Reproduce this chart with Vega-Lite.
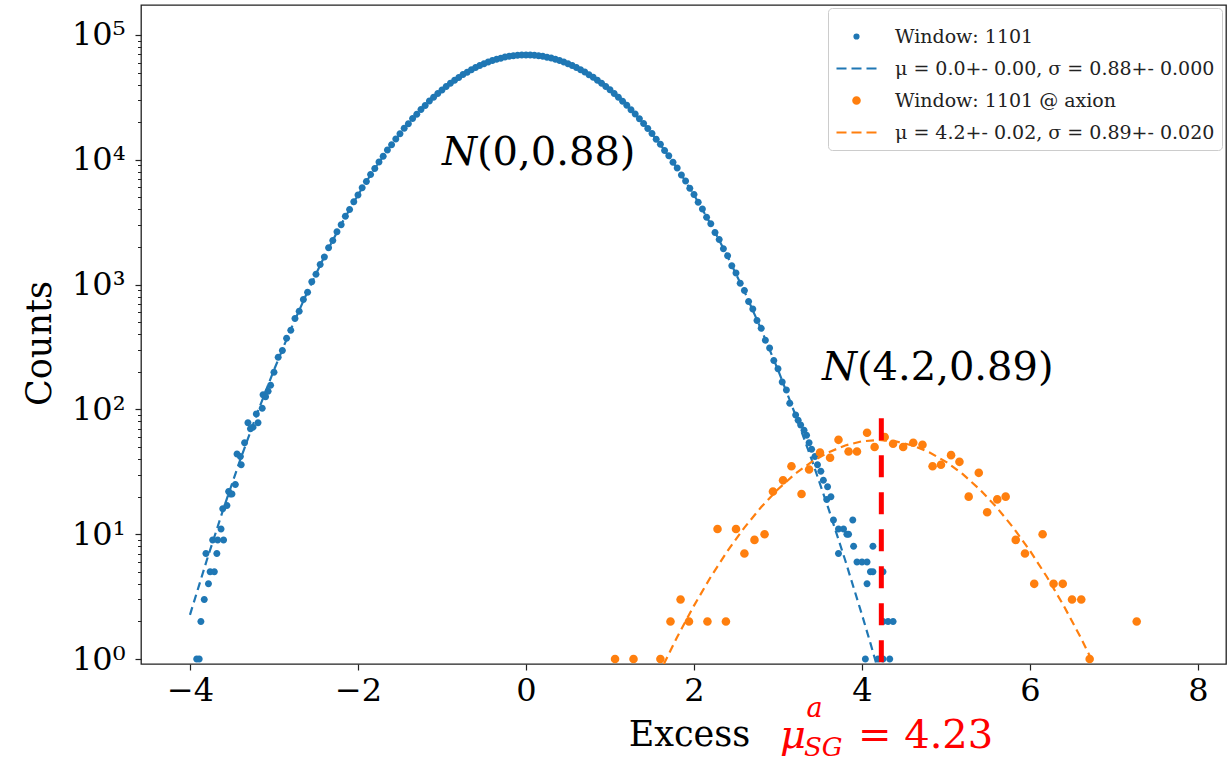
{
  "$schema": "https://vega.github.io/schema/vega-lite/v6.json",
  "width": 1085,
  "height": 659,
  "autosize": {"type": "none"},
  "padding": {"left": 141, "top": 5, "right": 5, "bottom": 100},
  "background": "white",
  "config": {"view": {"stroke": "#222222", "strokeWidth": 1.3}, "font": "DejaVu Serif"},
  "datasets": {
    "blue": [
      {"x":-3.92,"y":1,"series":"Window: 1101"},{"x":-3.89,"y":1,"series":"Window: 1101"},{"x":-3.87,"y":2,"series":"Window: 1101"},{"x":-3.83,"y":3,"series":"Window: 1101"},{"x":-3.81,"y":7,"series":"Window: 1101"},{"x":-3.78,"y":4,"series":"Window: 1101"},{"x":-3.76,"y":5,"series":"Window: 1101"},{"x":-3.73,"y":9,"series":"Window: 1101"},{"x":-3.71,"y":5,"series":"Window: 1101"},{"x":-3.68,"y":7,"series":"Window: 1101"},{"x":-3.67,"y":9,"series":"Window: 1101"},{"x":-3.63,"y":11,"series":"Window: 1101"},{"x":-3.61,"y":16,"series":"Window: 1101"},{"x":-3.6,"y":9,"series":"Window: 1101"},{"x":-3.56,"y":17,"series":"Window: 1101"},{"x":-3.54,"y":22,"series":"Window: 1101"},{"x":-3.52,"y":21,"series":"Window: 1101"},{"x":-3.5,"y":21,"series":"Window: 1101"},{"x":-3.46,"y":25,"series":"Window: 1101"},{"x":-3.44,"y":44,"series":"Window: 1101"},{"x":-3.4,"y":42,"series":"Window: 1101"},{"x":-3.39,"y":36,"series":"Window: 1101"},{"x":-3.35,"y":54,"series":"Window: 1101"},{"x":-3.31,"y":78,"series":"Window: 1101"},{"x":-3.28,"y":70,"series":"Window: 1101"},{"x":-3.25,"y":72,"series":"Window: 1101"},{"x":-3.21,"y":92,"series":"Window: 1101"},{"x":-3.19,"y":78,"series":"Window: 1101"},{"x":-3.14,"y":102,"series":"Window: 1101"},{"x":-3.13,"y":131,"series":"Window: 1101"},{"x":-3.1,"y":126,"series":"Window: 1101"},{"x":-3.07,"y":140,"series":"Window: 1101"},{"x":-3.04,"y":156,"series":"Window: 1101"},
      {"x":-3.0,"y":198,"series":"Window: 1101"},{"x":-2.95,"y":262,"series":"Window: 1101"},{"x":-2.9,"y":296,"series":"Window: 1101"},{"x":-2.85,"y":372,"series":"Window: 1101"},{"x":-2.8,"y":430,"series":"Window: 1101"},{"x":-2.75,"y":536,"series":"Window: 1101"},{"x":-2.7,"y":612,"series":"Window: 1101"},{"x":-2.65,"y":758,"series":"Window: 1101"},{"x":-2.6,"y":868,"series":"Window: 1101"},{"x":-2.55,"y":1052,"series":"Window: 1101"},{"x":-2.5,"y":1210,"series":"Window: 1101"},{"x":-2.45,"y":1450,"series":"Window: 1101"},{"x":-2.4,"y":1665,"series":"Window: 1101"},{"x":-2.35,"y":1975,"series":"Window: 1101"},{"x":-2.3,"y":2255,"series":"Window: 1101"},{"x":-2.25,"y":2650,"series":"Window: 1101"},{"x":-2.2,"y":3020,"series":"Window: 1101"},{"x":-2.15,"y":3520,"series":"Window: 1101"},{"x":-2.1,"y":3990,"series":"Window: 1101"},{"x":-2.05,"y":4610,"series":"Window: 1101"},{"x":-2.0,"y":5210,"series":"Window: 1101"},{"x":-1.95,"y":5960,"series":"Window: 1101"},{"x":-1.9,"y":6700,"series":"Window: 1101"},{"x":-1.85,"y":7620,"series":"Window: 1101"},{"x":-1.8,"y":8510,"series":"Window: 1101"},{"x":-1.75,"y":9610,"series":"Window: 1101"},{"x":-1.7,"y":10680,"series":"Window: 1101"},{"x":-1.65,"y":11960,"series":"Window: 1101"},{"x":-1.6,"y":13220,"series":"Window: 1101"},{"x":-1.55,"y":14700,"series":"Window: 1101"},{"x":-1.5,"y":16160,"series":"Window: 1101"},{"x":-1.45,"y":17850,"series":"Window: 1101"},{"x":-1.4,"y":19480,"series":"Window: 1101"},{"x":-1.35,"y":21370,"series":"Window: 1101"},{"x":-1.3,"y":23200,"series":"Window: 1101"},{"x":-1.25,"y":25270,"series":"Window: 1101"},{"x":-1.2,"y":27260,"series":"Window: 1101"},{"x":-1.15,"y":29510,"series":"Window: 1101"},{"x":-1.1,"y":31620,"series":"Window: 1101"},{"x":-1.05,"y":33990,"series":"Window: 1101"},{"x":-1.0,"y":36220,"series":"Window: 1101"},{"x":-0.95,"y":38680,"series":"Window: 1101"},{"x":-0.9,"y":40960,"series":"Window: 1101"},{"x":-0.85,"y":43440,"series":"Window: 1101"},{"x":-0.8,"y":45700,"series":"Window: 1101"},{"x":-0.75,"y":48160,"series":"Window: 1101"},{"x":-0.7,"y":50360,"series":"Window: 1101"},{"x":-0.65,"y":52700,"series":"Window: 1101"},{"x":-0.6,"y":54780,"series":"Window: 1101"},{"x":-0.55,"y":56950,"series":"Window: 1101"},{"x":-0.5,"y":58810,"series":"Window: 1101"},{"x":-0.45,"y":60740,"series":"Window: 1101"},{"x":-0.4,"y":62330,"series":"Window: 1101"},{"x":-0.35,"y":63970,"series":"Window: 1101"},{"x":-0.3,"y":65220,"series":"Window: 1101"},{"x":-0.25,"y":66490,"series":"Window: 1101"},{"x":-0.2,"y":67380,"series":"Window: 1101"},{"x":-0.15,"y":68230,"series":"Window: 1101"},{"x":-0.1,"y":68690,"series":"Window: 1101"},{"x":-0.05,"y":69110,"series":"Window: 1101"},{"x":0.0,"y":69150,"series":"Window: 1101"},
      {"x":0.05,"y":69040,"series":"Window: 1101"},{"x":0.1,"y":68770,"series":"Window: 1101"},{"x":0.15,"y":68140,"series":"Window: 1101"},{"x":0.2,"y":67460,"series":"Window: 1101"},{"x":0.25,"y":66400,"series":"Window: 1101"},{"x":0.3,"y":65310,"series":"Window: 1101"},{"x":0.35,"y":63880,"series":"Window: 1101"},{"x":0.4,"y":62420,"series":"Window: 1101"},{"x":0.45,"y":60650,"series":"Window: 1101"},{"x":0.5,"y":58900,"series":"Window: 1101"},{"x":0.55,"y":56860,"series":"Window: 1101"},{"x":0.6,"y":54870,"series":"Window: 1101"},{"x":0.65,"y":52610,"series":"Window: 1101"},{"x":0.7,"y":50450,"series":"Window: 1101"},{"x":0.75,"y":48070,"series":"Window: 1101"},{"x":0.8,"y":45800,"series":"Window: 1101"},{"x":0.85,"y":43350,"series":"Window: 1101"},{"x":0.9,"y":41050,"series":"Window: 1101"},{"x":0.95,"y":38590,"series":"Window: 1101"},{"x":1.0,"y":36310,"series":"Window: 1101"},{"x":1.05,"y":33910,"series":"Window: 1101"},{"x":1.1,"y":31710,"series":"Window: 1101"},{"x":1.15,"y":29420,"series":"Window: 1101"},{"x":1.2,"y":27340,"series":"Window: 1101"},{"x":1.25,"y":25190,"series":"Window: 1101"},{"x":1.3,"y":23280,"series":"Window: 1101"},{"x":1.35,"y":21290,"series":"Window: 1101"},{"x":1.4,"y":19560,"series":"Window: 1101"},{"x":1.45,"y":17770,"series":"Window: 1101"},{"x":1.5,"y":16230,"series":"Window: 1101"},{"x":1.55,"y":14630,"series":"Window: 1101"},{"x":1.6,"y":13290,"series":"Window: 1101"},{"x":1.65,"y":11890,"series":"Window: 1101"},{"x":1.7,"y":10750,"series":"Window: 1101"},{"x":1.75,"y":9540,"series":"Window: 1101"},{"x":1.8,"y":8580,"series":"Window: 1101"},{"x":1.85,"y":7560,"series":"Window: 1101"},{"x":1.9,"y":6760,"series":"Window: 1101"},{"x":1.95,"y":5910,"series":"Window: 1101"},{"x":2.0,"y":5260,"series":"Window: 1101"},{"x":2.05,"y":4560,"series":"Window: 1101"},{"x":2.1,"y":4040,"series":"Window: 1101"},{"x":2.15,"y":3470,"series":"Window: 1101"},{"x":2.2,"y":3070,"series":"Window: 1101"},{"x":2.25,"y":2610,"series":"Window: 1101"},{"x":2.3,"y":2300,"series":"Window: 1101"},{"x":2.35,"y":1935,"series":"Window: 1101"},{"x":2.4,"y":1700,"series":"Window: 1101"},{"x":2.45,"y":1418,"series":"Window: 1101"},{"x":2.5,"y":1240,"series":"Window: 1101"},{"x":2.55,"y":1025,"series":"Window: 1101"},{"x":2.6,"y":895,"series":"Window: 1101"},{"x":2.65,"y":732,"series":"Window: 1101"},{"x":2.7,"y":636,"series":"Window: 1101"},{"x":2.75,"y":515,"series":"Window: 1101"},{"x":2.8,"y":446,"series":"Window: 1101"},{"x":2.85,"y":358,"series":"Window: 1101"},{"x":2.9,"y":310,"series":"Window: 1101"},{"x":2.95,"y":246,"series":"Window: 1101"},{"x":3.0,"y":212,"series":"Window: 1101"},{"x":3.05,"y":166,"series":"Window: 1101"},{"x":3.1,"y":143,"series":"Window: 1101"},
      {"x":3.14,"y":112,"series":"Window: 1101"},{"x":3.21,"y":90,"series":"Window: 1101"},{"x":3.24,"y":82,"series":"Window: 1101"},{"x":3.27,"y":75,"series":"Window: 1101"},{"x":3.31,"y":68,"series":"Window: 1101"},{"x":3.34,"y":62,"series":"Window: 1101"},{"x":3.37,"y":54,"series":"Window: 1101"},{"x":3.4,"y":48,"series":"Window: 1101"},{"x":3.44,"y":42,"series":"Window: 1101"},{"x":3.47,"y":36,"series":"Window: 1101"},{"x":3.51,"y":32,"series":"Window: 1101"},{"x":3.54,"y":27,"series":"Window: 1101"},{"x":3.58,"y":19,"series":"Window: 1101"},{"x":3.59,"y":24,"series":"Window: 1101"},{"x":3.63,"y":20,"series":"Window: 1101"},{"x":3.66,"y":13,"series":"Window: 1101"},{"x":3.72,"y":11,"series":"Window: 1101"},{"x":3.72,"y":7,"series":"Window: 1101"},{"x":3.78,"y":11,"series":"Window: 1101"},{"x":3.82,"y":10,"series":"Window: 1101"},{"x":3.84,"y":10,"series":"Window: 1101"},{"x":3.89,"y":13,"series":"Window: 1101"},{"x":3.9,"y":8,"series":"Window: 1101"},{"x":3.94,"y":6,"series":"Window: 1101"},{"x":4.0,"y":6,"series":"Window: 1101"},{"x":4.04,"y":1,"series":"Window: 1101"},{"x":4.06,"y":6,"series":"Window: 1101"},{"x":4.06,"y":4,"series":"Window: 1101"},{"x":4.1,"y":5,"series":"Window: 1101"},{"x":4.13,"y":5,"series":"Window: 1101"},{"x":4.13,"y":8,"series":"Window: 1101"},{"x":4.19,"y":1,"series":"Window: 1101"},{"x":4.25,"y":5,"series":"Window: 1101"},{"x":4.25,"y":2,"series":"Window: 1101"},{"x":4.25,"y":1,"series":"Window: 1101"},{"x":4.31,"y":2,"series":"Window: 1101"},{"x":4.33,"y":1,"series":"Window: 1101"},{"x":4.37,"y":2,"series":"Window: 1101"}
    ],
    "orange": [
      {"x":1.06,"y":1,"series":"Window: 1101 @ axion"},{"x":1.28,"y":1,"series":"Window: 1101 @ axion"},{"x":1.6,"y":1,"series":"Window: 1101 @ axion"},{"x":1.72,"y":2,"series":"Window: 1101 @ axion"},{"x":1.84,"y":3,"series":"Window: 1101 @ axion"},{"x":1.94,"y":2,"series":"Window: 1101 @ axion"},{"x":2.16,"y":2,"series":"Window: 1101 @ axion"},{"x":2.38,"y":2,"series":"Window: 1101 @ axion"},{"x":2.28,"y":11,"series":"Window: 1101 @ axion"},{"x":2.5,"y":11,"series":"Window: 1101 @ axion"},{"x":2.6,"y":7,"series":"Window: 1101 @ axion"},{"x":2.72,"y":9,"series":"Window: 1101 @ axion"},{"x":2.84,"y":10,"series":"Window: 1101 @ axion"},{"x":2.94,"y":22,"series":"Window: 1101 @ axion"},{"x":3.06,"y":27,"series":"Window: 1101 @ axion"},{"x":3.16,"y":35,"series":"Window: 1101 @ axion"},{"x":3.28,"y":21,"series":"Window: 1101 @ axion"},{"x":3.37,"y":33,"series":"Window: 1101 @ axion"},{"x":3.5,"y":45,"series":"Window: 1101 @ axion"},{"x":3.62,"y":41,"series":"Window: 1101 @ axion"},{"x":3.72,"y":57,"series":"Window: 1101 @ axion"},{"x":3.84,"y":46,"series":"Window: 1101 @ axion"},{"x":3.94,"y":46,"series":"Window: 1101 @ axion"},{"x":4.06,"y":65,"series":"Window: 1101 @ axion"},{"x":4.15,"y":50,"series":"Window: 1101 @ axion"},{"x":4.27,"y":60,"series":"Window: 1101 @ axion"},{"x":4.37,"y":53,"series":"Window: 1101 @ axion"},{"x":4.49,"y":50,"series":"Window: 1101 @ axion"},{"x":4.61,"y":54,"series":"Window: 1101 @ axion"},{"x":4.72,"y":52,"series":"Window: 1101 @ axion"},{"x":4.84,"y":35,"series":"Window: 1101 @ axion"},{"x":4.94,"y":36,"series":"Window: 1101 @ axion"},{"x":5.06,"y":43,"series":"Window: 1101 @ axion"},{"x":5.16,"y":38,"series":"Window: 1101 @ axion"},{"x":5.27,"y":20,"series":"Window: 1101 @ axion"},{"x":5.39,"y":31,"series":"Window: 1101 @ axion"},{"x":5.49,"y":15,"series":"Window: 1101 @ axion"},{"x":5.61,"y":19,"series":"Window: 1101 @ axion"},{"x":5.71,"y":20,"series":"Window: 1101 @ axion"},{"x":5.83,"y":9,"series":"Window: 1101 @ axion"},{"x":5.94,"y":7,"series":"Window: 1101 @ axion"},{"x":6.05,"y":4,"series":"Window: 1101 @ axion"},{"x":6.15,"y":10,"series":"Window: 1101 @ axion"},{"x":6.28,"y":4,"series":"Window: 1101 @ axion"},{"x":6.39,"y":4,"series":"Window: 1101 @ axion"},{"x":6.5,"y":3,"series":"Window: 1101 @ axion"},{"x":6.61,"y":3,"series":"Window: 1101 @ axion"},{"x":6.71,"y":1,"series":"Window: 1101 @ axion"},{"x":7.27,"y":2,"series":"Window: 1101 @ axion"}
    ],
    "bluefit": [
      {"x":-4.0,"y":2.26,"series":"μ = 0.0+- 0.00, σ = 0.88+- 0.000"},{"x":-3.8,"y":6.18,"series":"μ = 0.0+- 0.00, σ = 0.88+- 0.000"},{"x":-3.6,"y":16.1,"series":"μ = 0.0+- 0.00, σ = 0.88+- 0.000"},{"x":-3.4,"y":39.7,"series":"μ = 0.0+- 0.00, σ = 0.88+- 0.000"},{"x":-3.2,"y":93.1,"series":"μ = 0.0+- 0.00, σ = 0.88+- 0.000"},{"x":-3.0,"y":207,"series":"μ = 0.0+- 0.00, σ = 0.88+- 0.000"},{"x":-2.8,"y":438,"series":"μ = 0.0+- 0.00, σ = 0.88+- 0.000"},{"x":-2.6,"y":880,"series":"μ = 0.0+- 0.00, σ = 0.88+- 0.000"},{"x":-2.4,"y":1679,"series":"μ = 0.0+- 0.00, σ = 0.88+- 0.000"},{"x":-2.2,"y":3041,"series":"μ = 0.0+- 0.00, σ = 0.88+- 0.000"},{"x":-2.0,"y":5230,"series":"μ = 0.0+- 0.00, σ = 0.88+- 0.000"},{"x":-1.8,"y":8542,"series":"μ = 0.0+- 0.00, σ = 0.88+- 0.000"},{"x":-1.6,"y":13250,"series":"μ = 0.0+- 0.00, σ = 0.88+- 0.000"},{"x":-1.4,"y":19500,"series":"μ = 0.0+- 0.00, σ = 0.88+- 0.000"},{"x":-1.2,"y":27300,"series":"μ = 0.0+- 0.00, σ = 0.88+- 0.000"},{"x":-1.0,"y":36270,"series":"μ = 0.0+- 0.00, σ = 0.88+- 0.000"},{"x":-0.8,"y":45770,"series":"μ = 0.0+- 0.00, σ = 0.88+- 0.000"},{"x":-0.6,"y":54830,"series":"μ = 0.0+- 0.00, σ = 0.88+- 0.000"},{"x":-0.4,"y":62380,"series":"μ = 0.0+- 0.00, σ = 0.88+- 0.000"},{"x":-0.2,"y":67440,"series":"μ = 0.0+- 0.00, σ = 0.88+- 0.000"},{"x":0.0,"y":69180,"series":"μ = 0.0+- 0.00, σ = 0.88+- 0.000"},{"x":0.2,"y":67440,"series":"μ = 0.0+- 0.00, σ = 0.88+- 0.000"},{"x":0.4,"y":62380,"series":"μ = 0.0+- 0.00, σ = 0.88+- 0.000"},{"x":0.6,"y":54830,"series":"μ = 0.0+- 0.00, σ = 0.88+- 0.000"},{"x":0.8,"y":45770,"series":"μ = 0.0+- 0.00, σ = 0.88+- 0.000"},{"x":1.0,"y":36270,"series":"μ = 0.0+- 0.00, σ = 0.88+- 0.000"},{"x":1.2,"y":27300,"series":"μ = 0.0+- 0.00, σ = 0.88+- 0.000"},{"x":1.4,"y":19500,"series":"μ = 0.0+- 0.00, σ = 0.88+- 0.000"},{"x":1.6,"y":13250,"series":"μ = 0.0+- 0.00, σ = 0.88+- 0.000"},{"x":1.8,"y":8542,"series":"μ = 0.0+- 0.00, σ = 0.88+- 0.000"},{"x":2.0,"y":5230,"series":"μ = 0.0+- 0.00, σ = 0.88+- 0.000"},{"x":2.2,"y":3041,"series":"μ = 0.0+- 0.00, σ = 0.88+- 0.000"},{"x":2.4,"y":1679,"series":"μ = 0.0+- 0.00, σ = 0.88+- 0.000"},{"x":2.6,"y":880,"series":"μ = 0.0+- 0.00, σ = 0.88+- 0.000"},{"x":2.8,"y":438,"series":"μ = 0.0+- 0.00, σ = 0.88+- 0.000"},{"x":3.0,"y":207,"series":"μ = 0.0+- 0.00, σ = 0.88+- 0.000"},{"x":3.2,"y":93.1,"series":"μ = 0.0+- 0.00, σ = 0.88+- 0.000"},{"x":3.4,"y":39.7,"series":"μ = 0.0+- 0.00, σ = 0.88+- 0.000"},{"x":3.6,"y":16.1,"series":"μ = 0.0+- 0.00, σ = 0.88+- 0.000"},{"x":3.8,"y":6.18,"series":"μ = 0.0+- 0.00, σ = 0.88+- 0.000"},{"x":4.0,"y":2.26,"series":"μ = 0.0+- 0.00, σ = 0.88+- 0.000"},{"x":4.1,"y":1.34,"series":"μ = 0.0+- 0.00, σ = 0.88+- 0.000"},{"x":4.2,"y":0.78,"series":"μ = 0.0+- 0.00, σ = 0.88+- 0.000"}
    ],
    "orangefit": [
      {"x":1.64,"y":0.91,"series":"μ = 4.2+- 0.02, σ = 0.89+- 0.020"},{"x":1.8,"y":1.5,"series":"μ = 4.2+- 0.02, σ = 0.89+- 0.020"},{"x":2.0,"y":2.68,"series":"μ = 4.2+- 0.02, σ = 0.89+- 0.020"},{"x":2.2,"y":4.56,"series":"μ = 4.2+- 0.02, σ = 0.89+- 0.020"},{"x":2.4,"y":7.36,"series":"μ = 4.2+- 0.02, σ = 0.89+- 0.020"},{"x":2.6,"y":11.3,"series":"μ = 4.2+- 0.02, σ = 0.89+- 0.020"},{"x":2.8,"y":16.5,"series":"μ = 4.2+- 0.02, σ = 0.89+- 0.020"},{"x":3.0,"y":22.9,"series":"μ = 4.2+- 0.02, σ = 0.89+- 0.020"},{"x":3.2,"y":30.3,"series":"μ = 4.2+- 0.02, σ = 0.89+- 0.020"},{"x":3.4,"y":38.0,"series":"μ = 4.2+- 0.02, σ = 0.89+- 0.020"},{"x":3.6,"y":45.3,"series":"μ = 4.2+- 0.02, σ = 0.89+- 0.020"},{"x":3.8,"y":51.4,"series":"μ = 4.2+- 0.02, σ = 0.89+- 0.020"},{"x":4.0,"y":55.5,"series":"μ = 4.2+- 0.02, σ = 0.89+- 0.020"},{"x":4.2,"y":56.9,"series":"μ = 4.2+- 0.02, σ = 0.89+- 0.020"},{"x":4.4,"y":55.5,"series":"μ = 4.2+- 0.02, σ = 0.89+- 0.020"},{"x":4.6,"y":51.4,"series":"μ = 4.2+- 0.02, σ = 0.89+- 0.020"},{"x":4.8,"y":45.3,"series":"μ = 4.2+- 0.02, σ = 0.89+- 0.020"},{"x":5.0,"y":38.0,"series":"μ = 4.2+- 0.02, σ = 0.89+- 0.020"},{"x":5.2,"y":30.3,"series":"μ = 4.2+- 0.02, σ = 0.89+- 0.020"},{"x":5.4,"y":22.9,"series":"μ = 4.2+- 0.02, σ = 0.89+- 0.020"},{"x":5.6,"y":16.5,"series":"μ = 4.2+- 0.02, σ = 0.89+- 0.020"},{"x":5.8,"y":11.3,"series":"μ = 4.2+- 0.02, σ = 0.89+- 0.020"},{"x":6.0,"y":7.36,"series":"μ = 4.2+- 0.02, σ = 0.89+- 0.020"},{"x":6.2,"y":4.56,"series":"μ = 4.2+- 0.02, σ = 0.89+- 0.020"},{"x":6.4,"y":2.68,"series":"μ = 4.2+- 0.02, σ = 0.89+- 0.020"},{"x":6.6,"y":1.5,"series":"μ = 4.2+- 0.02, σ = 0.89+- 0.020"},{"x":6.76,"y":0.91,"series":"μ = 4.2+- 0.02, σ = 0.89+- 0.020"}
    ],
    "marker": [{"x": 4.23, "top": 85, "bottom": 0.912}],
    "nItalic": [{"x": -0.583, "y": 9080, "t": "N"}, {"x": 3.94, "y": 172, "t": "N"}],
    "nArgs": [{"x": -0.583, "y": 9080, "t": "(0,0.88)"}, {"x": 3.94, "y": 172, "t": "(4.2,0.89)"}],
    "muMain": [{"x": 3.024, "y": 0.195, "t": "μ"}],
    "muSup": [{"x": 3.34, "y": 0.345, "t": "a"}],
    "muSub": [{"x": 3.31, "y": 0.168, "t": "SG"}],
    "muVal": [{"x": 3.952, "y": 0.195, "t": "= 4.23"}]
  },
  "layer": [
    {
      "data": {"name": "blue"},
      "mark": {"type": "point", "filled": true, "size": 4900, "opacity": 1, "clip": true},
      "encoding": {
        "x": {"field": "x", "type": "quantitative", "scale": {"domain": [-4.583, 8.333], "nice": false, "zero": false},
          "axis": {"values": [-4, -2, 0, 2, 4, 6, 8], "format": "d", "labelFont": "DejaVu Serif", "labelFontSize": 32, "labelColor": "black", "labelPadding": 5, "labelOverlap": false, "labelFlush": false, "tickSize": 6, "tickWidth": 1.2, "tickColor": "#222222", "domain": false, "grid": false,
            "title": "Excess", "titleFont": "DejaVu Serif", "titleFontSize": 35, "titleFontWeight": "normal", "titleColor": "black", "titleBaseline": "alphabetic", "titleX": 548, "titleY": 81}},
        "y": {"field": "y", "type": "quantitative", "scale": {"type": "log", "domain": [0.912, 173800], "nice": false},
          "axis": {"values": [1, 10, 100, 1000, 10000, 100000], "labelExpr": "'10' + ['⁰','¹','²','³','⁴','⁵'][round(log(datum.value)/LN10)]", "labelFont": "DejaVu Serif", "labelFontSize": 32, "labelColor": "black", "labelPadding": 10, "labelOverlap": false, "labelFlush": false, "tickSize": 6, "tickWidth": 1.2, "tickColor": "#222222", "domain": false, "grid": false,
            "title": "Counts", "titleFont": "DejaVu Serif", "titleFontSize": 35, "titleFontWeight": "normal", "titleColor": "black", "titleBaseline": "alphabetic", "titleAngle": -90, "titleX": -91, "titleY": 338}},
        "color": {"field": "series", "type": "nominal",
          "scale": {"domain": ["Window: 1101", "μ = 0.0+- 0.00, σ = 0.88+- 0.000", "Window: 1101 @ axion", "μ = 4.2+- 0.02, σ = 0.89+- 0.020"], "range": ["#1f77b4", "#1f77b4", "#ff7f0e", "#ff7f0e"]},
          "legend": {"title": null, "orient": "none", "legendX": 687, "legendY": 3, "padding": 7, "rowPadding": 0, "labelOffset": 17, "symbolSize": 1600, "symbolStrokeWidth": 2.2,
            "labelFont": "DejaVu Serif", "labelFontSize": 19, "labelColor": "#222222", "labelLimit": 700,
            "fillColor": "rgba(255,255,255,0.85)", "strokeColor": "#cccccc", "cornerRadius": 4}},
        "shape": {"field": "series", "type": "nominal",
          "scale": {"domain": ["Window: 1101", "μ = 0.0+- 0.00, σ = 0.88+- 0.000", "Window: 1101 @ axion", "μ = 4.2+- 0.02, σ = 0.89+- 0.020"],
            "range": ["M-0.1,0A0.1,0.1,0,1,0,0.1,0A0.1,0.1,0,1,0,-0.1,0Z", "M-1,0H-0.5M-0.25,0H0.25M0.5,0H1", "M-0.16,0A0.16,0.16,0,1,0,0.16,0A0.16,0.16,0,1,0,-0.16,0Z", "M-1,0H-0.5M-0.25,0H0.25M0.5,0H1"]}}
      }
    },
    {
      "data": {"name": "bluefit"},
      "mark": {"type": "line", "strokeDash": [8, 5], "strokeWidth": 2.2, "clip": true},
      "encoding": {
        "x": {"field": "x", "type": "quantitative"},
        "y": {"field": "y", "type": "quantitative",
          "axis": {"orient": "left", "values": [2,3,4,5,6,7,8,9,20,30,40,50,60,70,80,90,200,300,400,500,600,700,800,900,2000,3000,4000,5000,6000,7000,8000,9000,20000,30000,40000,50000,60000,70000,80000,90000], "labels": false, "tickSize": 3.5, "tickWidth": 1, "tickColor": "#222222", "domain": false, "grid": false, "title": null}},
        "color": {"field": "series", "type": "nominal"}
      }
    },
    {
      "data": {"name": "orange"},
      "mark": {"type": "point", "filled": true, "size": 2890, "opacity": 1, "clip": true},
      "encoding": {
        "x": {"field": "x", "type": "quantitative"},
        "y": {"field": "y", "type": "quantitative", "axis": null},
        "color": {"field": "series", "type": "nominal"},
        "shape": {"field": "series", "type": "nominal"}
      }
    },
    {
      "data": {"name": "orangefit"},
      "mark": {"type": "line", "strokeDash": [8, 5], "strokeWidth": 2.2, "clip": true},
      "encoding": {
        "x": {"field": "x", "type": "quantitative"},
        "y": {"field": "y", "type": "quantitative", "axis": null},
        "color": {"field": "series", "type": "nominal"}
      }
    },
    {
      "data": {"name": "marker"},
      "mark": {"type": "rule", "color": "#ff0000", "strokeWidth": 5, "strokeDash": [22, 15]},
      "encoding": {
        "x": {"field": "x", "type": "quantitative"},
        "y": {"field": "top", "type": "quantitative", "axis": null},
        "y2": {"field": "bottom"}
      }
    },
    {
      "data": {"name": "nItalic"},
      "mark": {"type": "text", "align": "right", "baseline": "alphabetic", "font": "DejaVu Serif", "fontStyle": "italic", "fontSize": 40, "color": "black"},
      "encoding": {
        "x": {"field": "x", "type": "quantitative"},
        "y": {"field": "y", "type": "quantitative", "axis": null},
        "text": {"field": "t"}
      }
    },
    {
      "data": {"name": "nArgs"},
      "mark": {"type": "text", "align": "left", "baseline": "alphabetic", "font": "DejaVu Serif", "fontSize": 40, "color": "black"},
      "encoding": {
        "x": {"field": "x", "type": "quantitative"},
        "y": {"field": "y", "type": "quantitative", "axis": null},
        "text": {"field": "t"}
      }
    },
    {
      "data": {"name": "muMain"},
      "mark": {"type": "text", "align": "left", "baseline": "alphabetic", "font": "DejaVu Serif", "fontStyle": "italic", "fontSize": 40, "color": "#ff0000", "clip": false},
      "encoding": {
        "x": {"field": "x", "type": "quantitative"},
        "y": {"field": "y", "type": "quantitative", "axis": null},
        "text": {"field": "t"}
      }
    },
    {
      "data": {"name": "muSup"},
      "mark": {"type": "text", "align": "left", "baseline": "alphabetic", "font": "DejaVu Serif", "fontStyle": "italic", "fontSize": 27, "color": "#ff0000", "clip": false},
      "encoding": {
        "x": {"field": "x", "type": "quantitative"},
        "y": {"field": "y", "type": "quantitative", "axis": null},
        "text": {"field": "t"}
      }
    },
    {
      "data": {"name": "muSub"},
      "mark": {"type": "text", "align": "left", "baseline": "alphabetic", "font": "DejaVu Serif", "fontStyle": "italic", "fontSize": 26, "color": "#ff0000", "clip": false},
      "encoding": {
        "x": {"field": "x", "type": "quantitative"},
        "y": {"field": "y", "type": "quantitative", "axis": null},
        "text": {"field": "t"}
      }
    },
    {
      "data": {"name": "muVal"},
      "mark": {"type": "text", "align": "left", "baseline": "alphabetic", "font": "DejaVu Serif", "fontSize": 40, "color": "#ff0000", "clip": false},
      "encoding": {
        "x": {"field": "x", "type": "quantitative"},
        "y": {"field": "y", "type": "quantitative", "axis": null},
        "text": {"field": "t"}
      }
    }
  ],
  "resolve": {"axis": {"y": "independent"}}
}
